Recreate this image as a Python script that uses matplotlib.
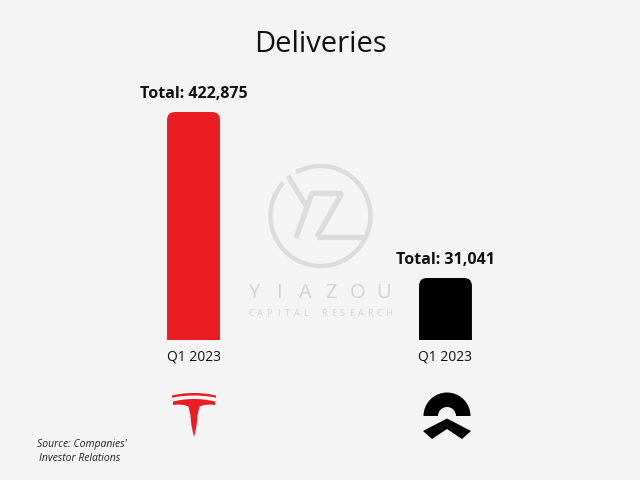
import numpy as np
import matplotlib.pyplot as plt
from matplotlib.patches import FancyBboxPatch, Polygon, Arc, Wedge
from matplotlib.transforms import IdentityTransform

plt.rcParams["font.family"] = ["Open Sans", "DejaVu Sans"]

# data
companies = ["Tesla", "NIO"]
periods = ["Q1 2023", "Q1 2023"]
deliveries = [422875, 31041]
bar_colors = ["#ec1c24", "#000000"]

BG = "#f4f4f4"
WM = "#dcdcdc"  # watermark grey


def fx(x):
    return x / 640


def fy(y):
    return 1 - y / 480


fig = plt.figure(figsize=(6.4, 4.8), dpi=100, facecolor=BG)

# background layer in pixel coords (y down) for watermark + logos
bg = fig.add_axes([0, 0, 1, 1], zorder=0)
bg.set_xlim(0, 640)
bg.set_ylim(480, 0)
bg.axis("off")

# watermark ring with a gap where the Y arm goes out
bg.add_patch(Arc((320.5, 216), 100, 100, theta1=241, theta2=222 + 360,
                 color=WM, lw=3.2))
for (x0, y0), (x1, y1) in [((288, 176), (308, 209)),
                           ((312, 193), (296, 238)),
                           ((310, 193), (342, 193)),
                           ((342, 193), (317, 237)),
                           ((317, 237), (364, 237))]:
    bg.plot([x0, x1], [y0, y1], color=WM, lw=3.8, solid_capstyle="butt")

for i, ch in enumerate("YIAZOU"):
    bg.text(254 + i * 25.8, 293, ch, color="#d3d3d3", fontsize=14.5,
            ha="center", va="center")
for i, ch in enumerate("CAPITAL RESEARCH"):
    bg.text(251 + i * 9.15, 313, ch, color="#d3d3d3", fontsize=6.5,
            ha="center", va="center")

# tesla logo (center 194, 415)
tx, ty = 194, 415
xs = np.linspace(-22, 22, 40)
outer = 19.5 + 2.5 * (1 - (xs / 22) ** 2)
inner = 17.3 + 2.2 * (1 - (xs / 22) ** 2)
arc_pts = np.vstack([np.column_stack([xs, outer]),
                     np.column_stack([xs[::-1], inner[::-1]])])
xs2 = np.linspace(-21, 21, 40)
top = 13.5 + 2.5 * (1 - (xs2 / 21) ** 2)
lower = [(21, 10.0), (16, 10.5), (10, 10), (5.5, 8.5), (4.5, 4), (3.6, 0),
         (2.6, -10), (1.2, -17), (0, -22), (-1.2, -17), (-2.6, -10),
         (-3.6, 0), (-4.5, 4), (-5.5, 8.5), (-10, 10), (-16, 10.5),
         (-21, 10.0)]
body_pts = np.vstack([np.column_stack([xs2, top]), np.array(lower)])
for pts in (arc_pts, body_pts):
    bg.add_patch(Polygon(np.column_stack([tx + pts[:, 0], ty - pts[:, 1]]),
                         closed=True, fc=bar_colors[0], ec="none"))

# nio logo (center 447, 415)
nx, ny = 447, 415
bg.add_patch(Wedge((nx, ny + 1), 23.5, 180, 360, width=14.5,
                   fc="black", ec="none"))
chev = [(0, -3.5), (24, -16), (15, -24), (0, -14), (-15, -24),
        (-24, -16)]
bg.add_patch(Polygon([(nx + a, ny - b) for a, b in chev], closed=True,
                     fc="black", ec="none"))

# bars
ax = fig.add_axes([fx(96), fy(340), fx(544 - 96), (340 - 112) / 480],
                  zorder=1)
ax.set_facecolor("none")
ax.set_yscale("log")
ax.set_xlim(-0.387, 1.391)
ax.set_ylim(11700, deliveries[0])
pos = np.arange(len(companies))
bars = ax.bar(pos, deliveries, width=0.21, bottom=1, color=bar_colors)
for s in ax.spines.values():
    s.set_visible(False)
ax.set_yticks([])
ax.minorticks_off()
ax.set_xticks(pos, periods, fontsize=10, color="#111111")
ax.tick_params(axis="x", length=0, pad=7)
ax.tick_params(axis="y", which="both", length=0, labelleft=False)

for p, v in zip(pos, deliveries):
    ax.annotate(f"Total: {v:,}", (p, v), xytext=(0, 9.8),
                textcoords="offset points", ha="center", va="baseline",
                fontsize=11.5, fontweight="bold", color="#111111",
                annotation_clip=False)

# swap plain bars for ones with rounded tops
fig.canvas.draw()
for rect, col in zip(bars, bar_colors):
    bb = rect.get_window_extent()
    rr = FancyBboxPatch((bb.x0, bb.y0), bb.width, bb.height,
                        boxstyle="round,pad=0,rounding_size=8",
                        transform=IdentityTransform(), fc=col, ec="none")
    ax.add_patch(rr)
    rect.set_visible(False)

fig.text(0.5, fy(51.5), "Deliveries", ha="center", va="baseline",
         fontsize=21, color="#111111")
fig.text(fx(37), fy(447), "Source: Companies'", fontsize=7.5,
         style="italic", color="#222222", va="baseline")
fig.text(fx(39), fy(461), "Investor Relations", fontsize=7.5,
         style="italic", color="#222222", va="baseline")

fig.savefig("out.png", dpi=100, facecolor=BG)
